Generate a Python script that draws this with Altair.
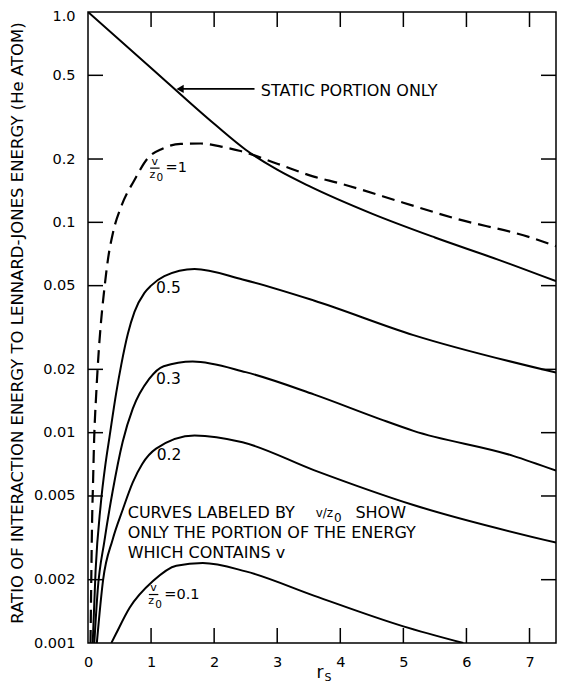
import altair as alt
import pandas as pd

# ---------------- data ----------------
static_x = [0.0, 1.0, 2.0, 2.5, 3.0, 3.5, 4.5, 5.5, 6.5, 7.42]
static_y = [1.0, 0.542, 0.294, 0.2215, 0.178, 0.149, 0.110, 0.0847, 0.0665, 0.0525]

v1_x = [0.04, 0.05, 0.065, 0.08, 0.095, 0.132, 0.169, 0.21, 0.264, 0.316, 0.395, 0.527, 0.737,
        0.95, 1.18, 1.47, 1.79, 2.11, 2.4, 3.0, 3.58, 4.0, 5.0, 5.79, 7.0, 7.42]
v1_y = [0.001, 0.0018, 0.0038, 0.0058, 0.0088, 0.0156, 0.0241, 0.0346, 0.0497, 0.0665, 0.089,
        0.119, 0.159, 0.202, 0.224, 0.236, 0.237, 0.229, 0.219, 0.19, 0.165, 0.153, 0.124,
        0.105, 0.085, 0.077]

v05_x = [0.075, 0.12, 0.2, 0.28, 0.34, 0.448, 0.527, 0.632, 0.737, 0.895, 1.0, 1.21, 1.69,
         2.45, 3.58, 5.16, 7.42]
v05_y = [0.001, 0.0022, 0.0045, 0.0072, 0.0095, 0.0155, 0.021, 0.0295, 0.0375, 0.0462, 0.050,
         0.0555, 0.060, 0.0535, 0.0425, 0.0291, 0.0193]

v03_x = [0.1, 0.153, 0.26, 0.39, 0.55, 0.71, 0.97, 1.2, 1.66, 2.5, 3.58, 4.63, 5.16, 6.74, 7.42]
v03_y = [0.001, 0.00177, 0.00305, 0.00525, 0.00906, 0.013, 0.018, 0.0207, 0.0218, 0.0194,
         0.0152, 0.0116, 0.0102, 0.00776, 0.0066]

v02_x = [0.14, 0.24, 0.39, 0.55, 0.71, 0.86, 1.08, 1.69, 2.45, 3.58, 5.16, 7.42]
v02_y = [0.001, 0.002, 0.0031, 0.0043, 0.0058, 0.0071, 0.0084, 0.0097, 0.0090, 0.00664,
         0.00453, 0.003]

v01_x = [0.37, 0.44, 0.66, 1.03, 1.4, 1.82, 2.5, 3.58, 5.0, 5.95]
v01_y = [0.001, 0.0011, 0.00147, 0.00197, 0.00233, 0.0024, 0.00219, 0.00168, 0.0012, 0.001]

x_tick_values = [0, 1, 2, 3, 4, 5, 6, 7]
inner_x_ticks = [1, 2, 3, 4, 5, 6, 7]
y_tick_values = [0.001, 0.002, 0.005, 0.01, 0.02, 0.05, 0.1, 0.2, 0.5, 1.0]
inner_y_ticks = [0.5, 0.2, 0.1, 0.05, 0.02, 0.01, 0.005, 0.002]

curve_label_text = ["0.5", "0.3", "0.2"]
curve_label_x = [1.08, 1.08, 1.09]
curve_label_y = [0.0489, 0.018, 0.0078]

frac_x = [1.06, 1.04]
frac_y = [0.181, 0.0017]
frac_rhs = ["=1", "=0.1"]

note_lines = ["CURVES LABELED BY", "ONLY THE PORTION OF THE ENERGY", "WHICH CONTAINS v"]
note_x = [0.63, 0.63, 0.63]
note_y = [0.00417, 0.00333, 0.00269]

static_label = ["STATIC PORTION ONLY"]
static_label_x = [2.74]
static_label_y = [0.423]
arrow_x = [1.46]
arrow_x2 = [2.64]
arrow_tip_x = [1.46]
arrow_y = [0.431]

y_title = "RATIO OF INTERACTION ENERGY TO LENNARD-JONES ENERGY (He ATOM)"

# ---------------- chart ----------------
W, H = 468, 631
FONT = "DejaVu Sans"

xs = alt.Scale(domain=[0, 7.42], nice=False, zero=False)
ys = alt.Scale(type="log", domain=[0.001, 1.0], nice=False)

x_axis = alt.Axis(values=x_tick_values, format="d", title=None, ticks=False,
                  domain=False, grid=False, labelPadding=12, labelFont=FONT,
                  labelFontSize=14.5, labelColor="black", labelFlush=False)
y_axis = alt.Axis(values=y_tick_values,
                  labelExpr="datum.value >= 1 ? '1.0' : toString(datum.value)",
                  labelOffset={"condition": {"test": "datum.value >= 1", "value": 4}, "value": 0},
                  ticks=False, domain=False, grid=False, labelPadding=13,
                  labelFont=FONT, labelFontSize=14.5, labelColor="black",
                  title=y_title, titleFont=FONT, titleFontSize=16.5, titleFontWeight="normal",
                  titleColor="black", titleX=-71, titleY=H / 2 - 5, titleAngle=270,
                  titleAlign="center", titleBaseline="middle")


def X(field):
    return alt.X(f"{field}:Q", scale=xs, axis=x_axis)


def Y(field):
    return alt.Y(f"{field}:Q", scale=ys, axis=y_axis)


rows = []
for name, sx, sy in [("static", static_x, static_y), ("0.5", v05_x, v05_y),
                     ("0.3", v03_x, v03_y), ("0.2", v02_x, v02_y), ("0.1", v01_x, v01_y)]:
    for a, b in zip(sx, sy):
        rows.append({"series": name, "x": a, "y": b})
solid_df = pd.DataFrame(rows)
dash_df = pd.DataFrame({"x": v1_x, "y": v1_y})

solid = alt.Chart(solid_df).mark_line(color="black", strokeWidth=2, interpolate="monotone",
                                      clip=True).encode(x=X("x"), y=Y("y"), detail="series:N")

dashed = alt.Chart(dash_df).mark_line(color="black", strokeWidth=2.2, strokeDash=[13, 7],
                                      interpolate="monotone", clip=True).encode(
    x=X("x"), y=Y("y"))

tx = pd.DataFrame({"t": inner_x_ticks})
ty = pd.DataFrame({"t": inner_y_ticks})
rule_style = dict(color="black", strokeWidth=1.5)
tick_top = alt.Chart(tx).mark_rule(**rule_style).encode(x=X("t"), y=alt.value(0), y2=alt.value(15))
tick_bottom = alt.Chart(tx).mark_rule(**rule_style).encode(x=X("t"), y=alt.value(H - 15),
                                                          y2=alt.value(H))
tick_left = alt.Chart(ty).mark_rule(**rule_style).encode(y=Y("t"), x=alt.value(0), x2=alt.value(15))
tick_right = alt.Chart(ty).mark_rule(**rule_style).encode(y=Y("t"), x=alt.value(W - 15),
                                                         x2=alt.value(W))


def text_layer(df, size, align="left", dx=0, dy=0):
    return alt.Chart(df).mark_text(font=FONT, fontSize=size, color="black", align=align,
                                   baseline="middle", dx=dx, dy=dy).encode(
        x=X("x"), y=Y("y"), text="label:N")


curve_labels = text_layer(pd.DataFrame({"x": curve_label_x, "y": curve_label_y,
                                        "label": curve_label_text}), 15.5)

frac_df = pd.DataFrame({"x": frac_x, "y": frac_y, "rhs": frac_rhs})
frac_df["x1"] = frac_df["x"] - 0.075
frac_df["x2"] = frac_df["x"] + 0.075
frac_df["xr"] = frac_df["x"] + 0.17
frac_bar = alt.Chart(frac_df).mark_rule(color="black", strokeWidth=1.2).encode(
    x=X("x1"), x2="x2:Q", y=Y("y"))
frac_v = text_layer(frac_df.assign(label="v"), 11, align="center", dy=-6.5)
frac_z = text_layer(frac_df.assign(label="z"), 11, align="center", dx=-2.5, dy=6.5)
frac_0 = text_layer(frac_df.assign(label="0"), 10.5, align="center", dx=5, dy=10)
frac_r = alt.Chart(frac_df).mark_text(font=FONT, fontSize=14.5, color="black", align="left",
                                      baseline="middle").encode(
    x=X("xr"), y=Y("y"), text="rhs:N")

note_df = pd.DataFrame({"x": note_x, "y": note_y, "label": note_lines})
notes = text_layer(note_df, 16)
vz = text_layer(pd.DataFrame({"x": [3.61], "y": [note_y[0]], "label": ["v/z"]}), 12)
vz0 = text_layer(pd.DataFrame({"x": [3.9], "y": [note_y[0]], "label": ["0"]}), 12, dy=5)
show = text_layer(pd.DataFrame({"x": [4.24], "y": [note_y[0]], "label": ["SHOW"]}), 16)

static_txt = text_layer(pd.DataFrame({"x": static_label_x, "y": static_label_y,
                                      "label": static_label}), 16)
arrow_df = pd.DataFrame({"x": arrow_x, "x2": arrow_x2, "y": arrow_y, "tip": arrow_tip_x})
arrow_line = alt.Chart(arrow_df).mark_rule(color="black", strokeWidth=1.6).encode(
    x=X("x"), x2="x2:Q", y=Y("y"))
arrow_head = alt.Chart(arrow_df).mark_point(shape="triangle-left", filled=True, size=70,
                                            color="black", opacity=1).encode(
    x=X("tip"), y=Y("y"))

title_df = pd.DataFrame({"x": [3.68], "label": ["r"]})
r_txt = alt.Chart(title_df).mark_text(font=FONT, fontSize=17, color="black", align="center",
                                      baseline="middle").encode(
    x=X("x"), y=alt.value(H + 30), text="label:N")
s_txt = alt.Chart(title_df.assign(label="S")).mark_text(font=FONT, fontSize=11, color="black",
                                                        align="center", baseline="middle",
                                                        dx=8).encode(
    x=X("x"), y=alt.value(H + 35), text="label:N")

chart = alt.layer(
    solid, dashed, tick_top, tick_bottom, tick_left, tick_right,
    curve_labels, frac_bar, frac_v, frac_z, frac_0, frac_r,
    notes, vz, vz0, show, static_txt, arrow_line, arrow_head, r_txt, s_txt,
).properties(
    width=W, height=H,
    autosize=alt.AutoSizeParams(type="none"),
    padding={"left": 80, "top": 4, "right": 1, "bottom": 43},
    background="white",
).configure_view(stroke="black", strokeWidth=1.5)

chart.save("out.html", embed_options={"renderer": "svg", "actions": False})
